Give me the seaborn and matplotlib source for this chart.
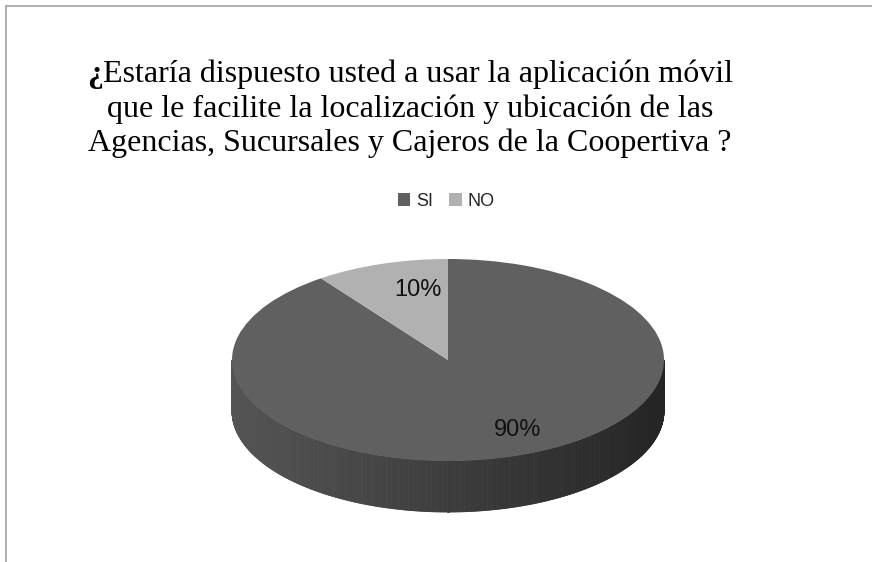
import numpy as np
import seaborn as sns
import matplotlib.pyplot as plt
from matplotlib.collections import PolyCollection
from matplotlib.colors import to_rgb

# survey answers
categories = ['SI', 'NO']
values = [90, 10]
colors = ['#606060', '#b1b1b1']
title_lines = ['¿Estaría dispuesto usted a usar la aplicación móvil',
               'que le facilite la localización y ubicación de las',
               'Agencias, Sucursales y Cajeros de la Coopertiva ?']

sns.set_theme(style='white')
plt.rcParams['font.family'] = ['Liberation Sans', 'DejaVu Sans']

W, H = 872, 562
fig = plt.figure(figsize=(W / 100, H / 100), dpi=100)
ax = fig.add_axes([0, 0, 1, 1])

# pie centre and radii in pixels (flattened pie -> ellipse)
cx, cy, rx, ry, depth = 448, 360, 216, 101, 51

wedges, texts, autotexts = ax.pie(values, colors=colors, startangle=90, counterclock=False,
                                  autopct='%1.0f%%', pctdistance=0.72,
                                  wedgeprops=dict(linewidth=0, zorder=2),
                                  textprops=dict(fontsize=17, color='#111111'))
ax.set_aspect('auto')
ax.set_xlim(-cx / rx, (W - cx) / rx)
ax.set_ylim(-(H - cy) / ry, cy / ry)
ax.axis('off')

# nudge the labels the way the original puts them
autotexts[0].set_position((0.32, -0.69))
autotexts[1].set_position((-0.14, 0.69))
for t in autotexts:
    t.set_zorder(5)

# side of the 3d pie: front half of the ellipse, shaded left->right
d = depth / ry
bounds = np.cumsum([0] + values) / sum(values)
start = np.deg2rad(90)
polys, fc = [], []
ts = np.linspace(np.pi, 2 * np.pi, 400)
for t0, t1 in zip(ts[:-1], ts[1:]):
    tm = 0.5 * (t0 + t1)
    # which slice this bit of the rim belongs to (clockwise from 12 o'clock)
    frac = ((start - tm) % (2 * np.pi)) / (2 * np.pi)
    k = np.searchsorted(bounds, frac, side='right') - 1
    base = np.array(to_rgb(colors[k]))
    x = np.cos(tm)
    shade = 0.88 - 0.25 * (x + 1)
    polys.append([(np.cos(t0), np.sin(t0)), (np.cos(t1), np.sin(t1)),
                  (np.cos(t1), np.sin(t1) - d), (np.cos(t0), np.sin(t0) - d)])
    fc.append(np.clip(base * shade, 0, 1))
ax.add_collection(PolyCollection(polys, facecolors=fc, edgecolors=fc, linewidths=0.6, zorder=1))

# title (the opening ¿ is bold in the original)
tkw = dict(va='baseline', fontsize=23, family='Liberation Serif', color='black')
renderer = fig.canvas.get_renderer()
first = fig.text(0, 0, title_lines[0][0], weight='bold', **tkw)
rest = fig.text(0, 0, title_lines[0][1:], **tkw)
w1 = first.get_window_extent(renderer).width
w2 = rest.get_window_extent(renderer).width
x0 = 410 - (w1 + w2) / 2
first.set_position((x0 / W, 1 - 82 / H))
rest.set_position(((x0 + w1) / W, 1 - 82 / H))
for i, line in enumerate(title_lines[1:], start=1):
    fig.text(410 / W, 1 - (82 + 34.5 * i) / H, line, ha='center', **tkw)

# legend
fig.legend(wedges, categories, loc='center', bbox_to_anchor=(446 / W, 1 - 201 / H), ncol=2,
           frameon=False, fontsize=13, handlelength=0.7, handleheight=0.7,
           handletextpad=0.3, columnspacing=0.9)

# chart frame (top and left edges visible)
fig.add_artist(plt.Line2D([6 / W, 6 / W], [0, 1 - 6 / H], color='#9a9a9a', lw=1.1))
fig.add_artist(plt.Line2D([6 / W, 1], [1 - 6 / H, 1 - 6 / H], color='#9a9a9a', lw=1.1))

fig.savefig('out.png', dpi=100)
